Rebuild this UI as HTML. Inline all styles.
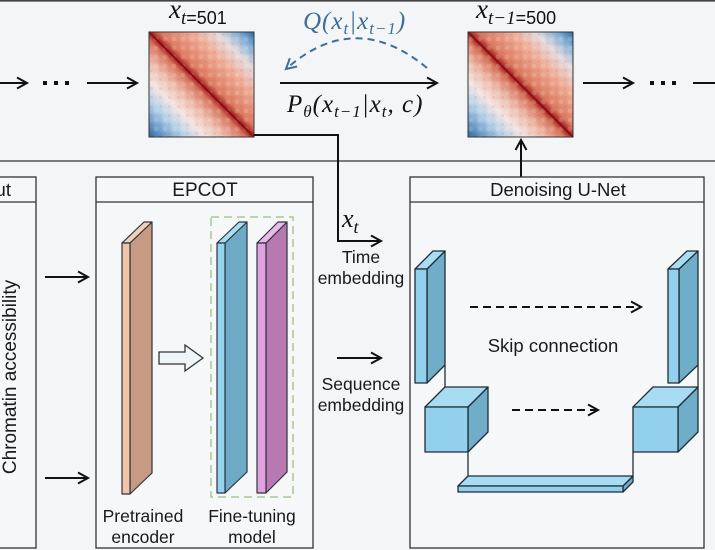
<!DOCTYPE html>
<html><head><meta charset="utf-8">
<style>
html,body{margin:0;padding:0;background:#f4f5f6;}
svg{display:block;}
.s{font-family:"Liberation Sans",Arial,sans-serif;fill:#1a1a1a;}
.m{font-family:"Liberation Serif",serif;font-style:italic;fill:#111;}
.d{font-family:"Liberation Sans",sans-serif;font-style:normal;}
</style></head>
<body>
<svg width="715" height="550" viewBox="0 0 715 550" xmlns="http://www.w3.org/2000/svg">
<defs>
<marker id="a" markerUnits="userSpaceOnUse" markerWidth="14" markerHeight="14" refX="11" refY="7" orient="auto">
<path d="M1,1.5 L11,7 L1,12.5" fill="none" stroke="#111" stroke-width="2" stroke-dasharray="none"/>
</marker>
<marker id="b" markerUnits="userSpaceOnUse" markerWidth="14" markerHeight="14" refX="11" refY="7" orient="auto">
<path d="M1,1.5 L11,7 L1,12.5" fill="none" stroke="#3d6e99" stroke-width="2" stroke-dasharray="none"/>
</marker>
<linearGradient id="hm" x1="1" y1="0" x2="0" y2="1">
<stop offset="0" stop-color="#2d6aa5"/>
<stop offset="0.08" stop-color="#7fb0d8"/>
<stop offset="0.18" stop-color="#e4dadd"/>
<stop offset="0.3" stop-color="#efab94"/>
<stop offset="0.45" stop-color="#dd7a62"/>
<stop offset="0.5" stop-color="#a21c1c"/>
<stop offset="0.54" stop-color="#d9765f"/>
<stop offset="0.63" stop-color="#ecb9a8"/>
<stop offset="0.73" stop-color="#f2e4e1"/>
<stop offset="0.83" stop-color="#b3d0e8"/>
<stop offset="0.92" stop-color="#6c9dc8"/>
<stop offset="1" stop-color="#2b68a2"/>
</linearGradient>
<pattern id="tx" width="9" height="9" patternUnits="userSpaceOnUse">
<circle cx="3" cy="3" r="2.4" fill="#ffffff" opacity="0.16"/>
<circle cx="7.5" cy="7.5" r="1.5" fill="#b03020" opacity="0.10"/>
</pattern>
</defs>

<rect x="0" y="0" width="715" height="550" fill="#f4f5f6"/>
<line x1="0" y1="0.8" x2="715" y2="0.8" stroke="#444" stroke-width="1.6"/>
<line x1="0" y1="161" x2="715" y2="161" stroke="#555" stroke-width="1.5"/>

<line x1="0" y1="83" x2="27" y2="83" stroke="#111" stroke-width="2" marker-end="url(#a)"/>
<rect x="43" y="81" width="4" height="4" fill="#111"/>
<rect x="54" y="81" width="4" height="4" fill="#111"/>
<rect x="65" y="81" width="4" height="4" fill="#111"/>
<line x1="87" y1="83" x2="137" y2="83" stroke="#111" stroke-width="2" marker-end="url(#a)"/>

<rect x="149" y="32" width="105" height="105" fill="url(#hm)"/>
<rect x="149" y="32" width="105" height="105" fill="url(#tx)"/>
<line x1="149" y1="32" x2="254" y2="137" stroke="#8b1010" stroke-width="2"/>
<rect x="149" y="32" width="105" height="105" fill="none" stroke="#333" stroke-width="1"/>
<text class="m" x="169" y="18" font-size="27">x<tspan font-size="19" dy="6">t</tspan><tspan class="d" font-size="18">=501</tspan></text>

<line x1="280" y1="83" x2="437" y2="83" stroke="#111" stroke-width="2" marker-end="url(#a)"/>
<path d="M427,68 Q355,8 286,69" fill="none" stroke="#3d6e99" stroke-width="2" stroke-dasharray="7,5" marker-end="url(#b)"/>
<text class="m" x="303" y="29" font-size="25" letter-spacing="1" style="fill:#3d6e99">Q(x<tspan font-size="17" dy="5">t</tspan><tspan dy="-5">|x</tspan><tspan font-size="17" dy="5">t−1</tspan><tspan dy="-5">)</tspan></text>
<text class="m" x="287" y="112" font-size="25" letter-spacing="1">P<tspan font-size="17" dy="5">θ</tspan><tspan dy="-5">(x</tspan><tspan font-size="17" dy="5">t−1</tspan><tspan dy="-5">|x</tspan><tspan font-size="17" dy="5">t</tspan><tspan dy="-5">, c)</tspan></text>

<rect x="468" y="32" width="105" height="105" fill="url(#hm)"/>
<rect x="468" y="32" width="105" height="105" fill="url(#tx)"/>
<line x1="468" y1="32" x2="573" y2="137" stroke="#8b1010" stroke-width="2"/>
<rect x="468" y="32" width="105" height="105" fill="none" stroke="#333" stroke-width="1"/>
<text class="m" x="476" y="18" font-size="27">x<tspan font-size="19" dy="6">t−1</tspan><tspan class="d" font-size="18">=500</tspan></text>

<line x1="583" y1="83" x2="633" y2="83" stroke="#111" stroke-width="2" marker-end="url(#a)"/>
<rect x="650" y="81" width="4" height="4" fill="#111"/>
<rect x="661" y="81" width="4" height="4" fill="#111"/>
<rect x="672" y="81" width="4" height="4" fill="#111"/>
<line x1="693" y1="83" x2="715" y2="83" stroke="#111" stroke-width="2"/>

<path d="M254,135 H338 V241 H381" fill="none" stroke="#111" stroke-width="2" marker-end="url(#a)"/>
<text class="m" x="342" y="227" font-size="26">x<tspan font-size="18" dy="6">t</tspan></text>
<line x1="521" y1="177" x2="521" y2="140" stroke="#111" stroke-width="2" marker-end="url(#a)"/>

<rect x="-5" y="177" width="41" height="371" fill="#f6f7f8" stroke="#333" stroke-width="1.3"/>
<line x1="-5" y1="202" x2="36" y2="202" stroke="#333" stroke-width="1.3"/>
<text class="s" x="11" y="196" font-size="18.5" text-anchor="end">Input</text>
<text class="s" font-size="19" text-anchor="middle" transform="translate(16,377) rotate(-90)">Chromatin accessibility</text>

<line x1="45" y1="277" x2="88" y2="277" stroke="#111" stroke-width="2" marker-end="url(#a)"/>
<line x1="45" y1="478" x2="88" y2="478" stroke="#111" stroke-width="2" marker-end="url(#a)"/>

<rect x="96" y="177" width="217" height="371" fill="#f6f7f8" stroke="#333" stroke-width="1.3"/>
<line x1="96" y1="202" x2="313" y2="202" stroke="#333" stroke-width="1.3"/>
<text class="s" x="205" y="196" font-size="19" text-anchor="middle">EPCOT</text>

<g stroke="#2b3640" stroke-width="1.2" stroke-linejoin="round">
<polygon points="130,243 152,222 152,473 130,494" fill="#c79a84"/>
<polygon points="122,243 130,243 152,222 144,222" fill="#f4d0b6"/>
<rect x="122" y="243" width="8" height="251" fill="#f2c4a6"/>
<polygon points="225,243 247,222 247,472 225,493" fill="#6eaac6"/>
<polygon points="217,243 225,243 247,222 239,222" fill="#a8ddf3"/>
<rect x="217" y="243" width="8" height="250" fill="#94d4ef"/>
<polygon points="266,243 287,222 287,472 266,493" fill="#b878b0"/>
<polygon points="257,243 266,243 287,222 278,222" fill="#ebb8e7"/>
<rect x="257" y="243" width="9" height="250" fill="#e2a1de"/>
</g>
<rect x="211" y="217" width="82" height="280" fill="none" stroke="#a9c893" stroke-width="1.5" stroke-dasharray="8,5"/>
<polygon points="159,352 185,352 185,345 203,358 185,371 185,364 159,364" fill="#eef6fa" stroke="#333" stroke-width="1.3"/>

<text class="s" x="143" y="522" font-size="17.5" text-anchor="middle">Pretrained</text>
<text class="s" x="143" y="543" font-size="17.5" text-anchor="middle">encoder</text>
<text class="s" x="252" y="522" font-size="17.5" text-anchor="middle">Fine-tuning</text>
<text class="s" x="252" y="543" font-size="17.5" text-anchor="middle">model</text>

<text class="s" x="361" y="263" font-size="17.5" text-anchor="middle">Time</text>
<text class="s" x="361" y="284" font-size="17.5" text-anchor="middle">embedding</text>
<line x1="337" y1="358" x2="381" y2="358" stroke="#111" stroke-width="2" marker-end="url(#a)"/>
<text class="s" x="361" y="390" font-size="17.5" text-anchor="middle">Sequence</text>
<text class="s" x="361" y="411" font-size="17.5" text-anchor="middle">embedding</text>

<rect x="410" y="177" width="294" height="371" fill="#f6f7f8" stroke="#333" stroke-width="1.3"/>
<line x1="410" y1="202" x2="704" y2="202" stroke="#333" stroke-width="1.3"/>
<text class="s" x="558" y="196" font-size="18.5" text-anchor="middle">Denoising U-Net</text>

<line x1="470" y1="307" x2="641" y2="307" stroke="#111" stroke-width="2" stroke-dasharray="8,5" marker-end="url(#a)"/>
<text class="s" x="553" y="352" font-size="18.5" text-anchor="middle">Skip connection</text>
<line x1="512" y1="410" x2="598" y2="410" stroke="#111" stroke-width="2" stroke-dasharray="8,5" marker-end="url(#a)"/>

<g stroke="#1f2d36" stroke-width="1.3" stroke-linejoin="round">
<line x1="445" y1="365" x2="445" y2="387"/>
<line x1="698" y1="365" x2="698" y2="387"/>
<line x1="468" y1="452" x2="468" y2="476"/>
<line x1="633" y1="452" x2="633" y2="476"/>
<polygon points="427,269 445,251 445,365 427,383" fill="#6fadc9"/>
<polygon points="415,269 427,269 445,251 433,251" fill="#a8dcf3"/>
<rect x="415" y="269" width="12" height="114" fill="#92d0ee"/>
<polygon points="468,407 488,387 488,432 468,452" fill="#6fadc9"/>
<polygon points="425,407 468,407 488,387 445,387" fill="#a8dcf3"/>
<rect x="425" y="407" width="43" height="45" fill="#92d0ee"/>
<polygon points="679,269 698,251 698,365 679,383" fill="#6fadc9"/>
<polygon points="668,269 679,269 698,251 687,251" fill="#a8dcf3"/>
<rect x="668" y="269" width="11" height="114" fill="#92d0ee"/>
<polygon points="678,407 698,387 698,432 678,452" fill="#6fadc9"/>
<polygon points="633,407 678,407 698,387 653,387" fill="#a8dcf3"/>
<rect x="633" y="407" width="45" height="45" fill="#92d0ee"/>
<polygon points="623,486 633,476 633,482 623,492" fill="#6fadc9"/>
<polygon points="458,486 623,486 633,476 468,476" fill="#a8dcf3"/>
<rect x="458" y="486" width="165" height="6" fill="#92d0ee"/>
</g>
</svg>
</body></html>
